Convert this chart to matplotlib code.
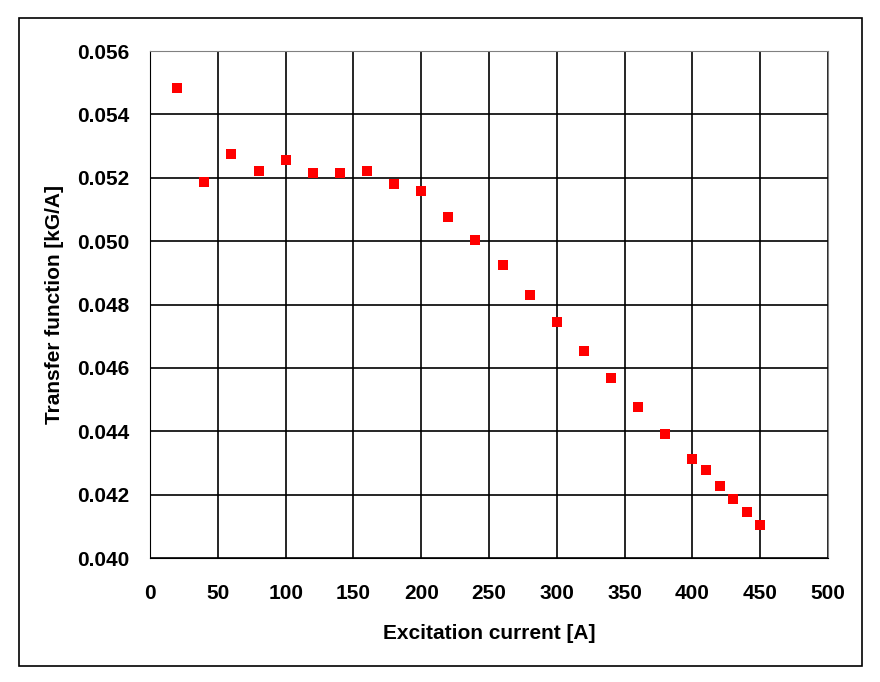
import matplotlib.pyplot as plt
from matplotlib.patches import Rectangle

# データ
current = [20, 40, 60, 80, 100, 120, 140, 160, 180, 200, 220, 240, 260, 280,
           300, 320, 340, 360, 380, 400, 410, 420, 430, 440, 450]
transfer = [0.05483, 0.05186, 0.05274, 0.05221, 0.05257, 0.05216, 0.05216,
            0.05222, 0.05180, 0.05159, 0.05076, 0.05003, 0.04926, 0.04831,
            0.04744, 0.04653, 0.04569, 0.04475, 0.04392, 0.04314, 0.04279,
            0.04226, 0.04187, 0.04145, 0.04105]

xticks = [0, 50, 100, 150, 200, 250, 300, 350, 400, 450, 500]
yticks = [0.040, 0.042, 0.044, 0.046, 0.048, 0.050, 0.052, 0.054, 0.056]

plt.rcParams["font.family"] = ["Liberation Sans", "DejaVu Sans"]
plt.rcParams["font.weight"] = "bold"

fig = plt.figure(figsize=(8.8, 6.82), dpi=100)
ax = fig.add_axes([0.1705, 0.1818, 0.7705, 0.7434])

ax.plot(current, transfer, linestyle="none", marker="s", markersize=7,
        color="#ff0000", markeredgewidth=0, zorder=3)

ax.set_xlim(0, 500)
ax.set_ylim(0.040, 0.056)
ax.set_xticks(xticks)
ax.set_yticks(yticks)
ax.set_yticklabels([f"{v:.3f}" for v in yticks])
ax.tick_params(length=0, labelsize=15)
ax.tick_params(axis="x", pad=19)
ax.tick_params(axis="y", pad=15)
ax.grid(True, color="black", linewidth=1.2)
ax.set_axisbelow(True)
for s in ["left", "bottom"]:
    ax.spines[s].set_color("black")
for s in ["top", "right"]:
    ax.spines[s].set_color("#808080")

ax.set_xlabel("Excitation current [A]", fontsize=15, fontweight="bold", labelpad=15)
ax.set_ylabel("Transfer function [kG/A]", fontsize=15, fontweight="bold", labelpad=9)

# 外枠
fig.patches.append(Rectangle((0.0216, 0.0235), 0.958, 0.950, transform=fig.transFigure,
                             fill=False, edgecolor="black", linewidth=1.2))

fig.savefig("out.png", dpi=100)
